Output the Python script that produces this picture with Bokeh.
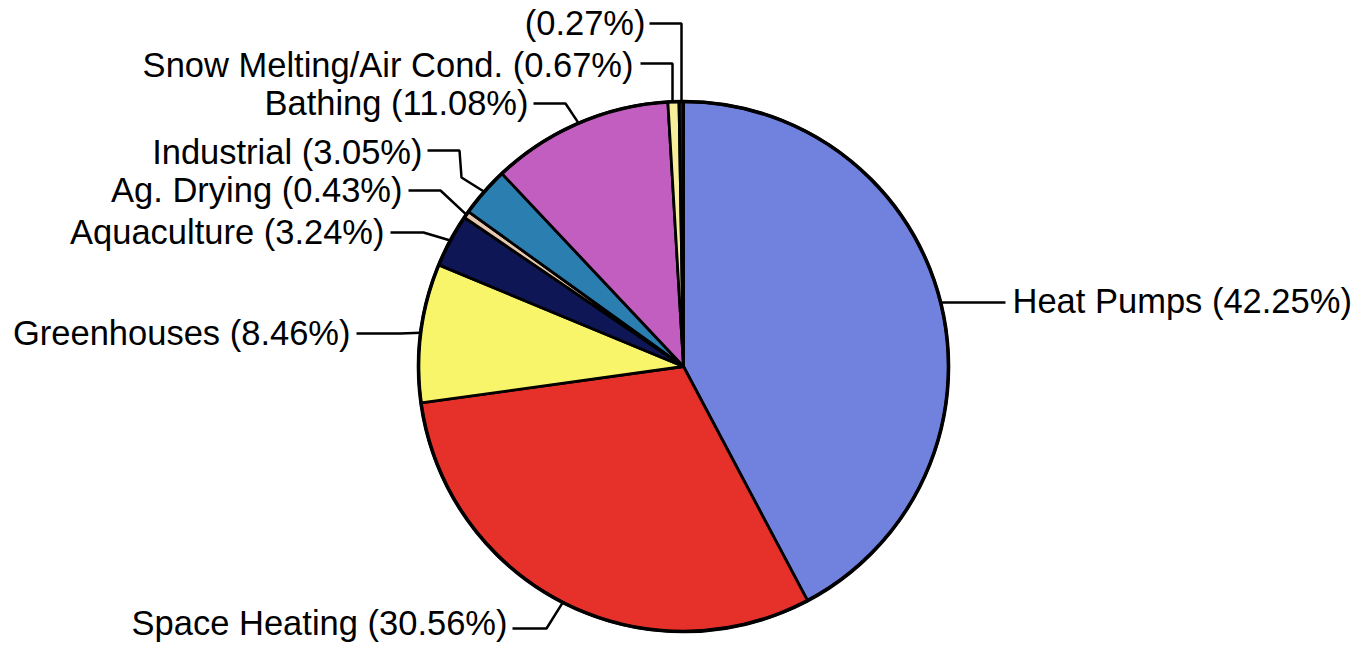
import math
from bokeh.plotting import figure
from bokeh.models import Range1d, ColumnDataSource
from bokeh.core.properties import value
from bokeh.embed import file_html
from bokeh.resources import INLINE

# ---- data ----
categories = ["Heat Pumps", "Space Heating", "Greenhouses", "Aquaculture",
              "Ag. Drying", "Industrial", "Bathing", "Snow Melting/Air Cond.", ""]
shares = [42.25, 30.56, 8.46, 3.24, 0.43, 3.05, 11.08, 0.67, 0.27]
colors = ["#7182DE", "#E5312A", "#F9F56A", "#0E1656", "#E8C8B0",
          "#2A7FB0", "#C25EC0", "#F6EE9A", "#1A1A2A"]

# ---- layout (reference pixel coordinates, y downward) ----
W, H = 1358, 644
IMG_H = 646
CX, CY, R = 683, 366, 265
FONT = value("Liberation Sans")
FS = "34.5px"

def Y(y):
    return IMG_H - y

p = figure(width=W, height=H, output_backend="svg", toolbar_location=None,
           x_range=Range1d(0, W), y_range=Range1d(IMG_H - H, IMG_H),
           min_border=0)
p.axis.visible = False
p.grid.visible = False
p.outline_line_color = None
p.background_fill_color = "white"

total = sum(shares)
starts, ends, mids = [], [], []
cum = 0.0
for s in shares:
    a0 = math.pi / 2 - 2 * math.pi * cum / total
    cum += s
    a1 = math.pi / 2 - 2 * math.pi * cum / total
    starts.append(a1)
    ends.append(a0)
    mids.append((a0 + a1) / 2)

src = ColumnDataSource(dict(x=[CX] * len(shares), y=[Y(CY)] * len(shares),
                            start=starts, end=ends, color=colors))
p.wedge(x="x", y="y", radius=R, start_angle="start", end_angle="end",
        direction="anticlock", fill_color="color", line_color="black",
        line_width=2.8, source=src)
p.circle(x=[CX], y=[Y(CY)], radius=R, fill_color=None, line_color="black",
         line_width=3.6)

# label anchors: (text_x, text_y, align, leader points before the edge point)
label_layout = [
    (1012, 300, "left",  [(1005, 302)]),
    (507, 622, "right",  [(512, 628), (546, 628)]),
    (350, 332, "right",  [(356, 333), (400, 333)]),
    (384, 231, "right",  [(390, 232), (423, 232)]),
    (402, 189, "right",  [(408, 190), (440, 190)]),
    (422, 151, "right",  [(427, 150), (459, 150), (461, 177)]),
    (528, 102, "right",  [(533, 103), (565, 103)]),
    (633, 64, "right",   [(640, 63), (672, 63)]),
    (645, 22, "right",   [(649, 23), (681, 23)]),
]

for i, (tx, ty, align, pts) in enumerate(label_layout):
    ex = CX + R * math.cos(mids[i])
    ey = CY - R * math.sin(mids[i])
    xs = [q[0] for q in pts] + [ex]
    ys = [Y(q[1]) for q in pts] + [Y(ey)]
    if i == 7 or i == 8:
        xs[-1] = pts[-1][0]
    p.line(xs, ys, line_color="black", line_width=2.5)
    name = categories[i]
    txt = f"{name} ({shares[i]:.2f}%)" if name else f"({shares[i]:.2f}%)"
    p.text(x=[tx], y=[Y(ty)], text=[txt], text_font=FONT, text_font_size=FS,
           text_align=align, text_baseline="middle", text_color="black")

open("out.html", "w").write(file_html(p, INLINE))
